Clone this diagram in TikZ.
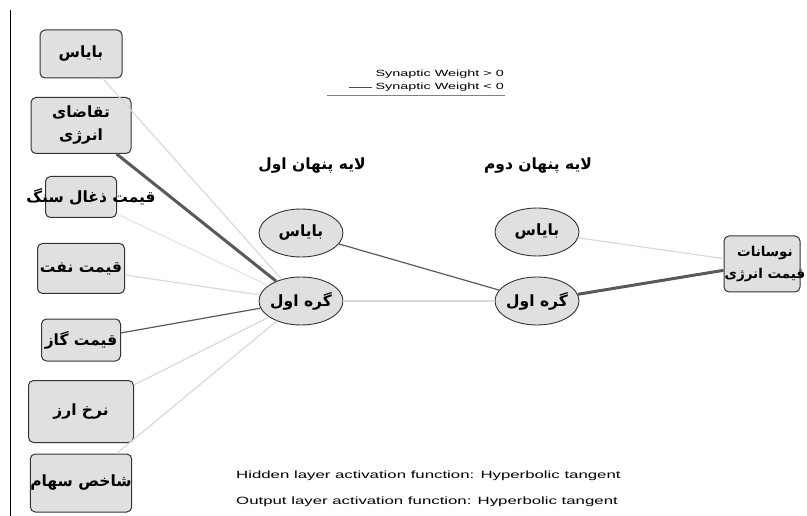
\documentclass[tikz,border=0pt]{standalone}
\usepackage{fontspec}
\setmainfont{Liberation Sans}
\newfontfamily\fafont[Script=Arabic]{DejaVu Sans}
\newfontfamily\legfont[FakeStretch=1.6]{Liberation Sans}
\TeXXeTstate=1
\usetikzlibrary{shapes.geometric}

\newcommand{\fawide}[1]{\makebox[0pt]{\beginR #1\endR}}

\tikzstyle{inbox} = [rectangle, rounded corners=5pt, inner sep=0pt, draw=black!80, line width=1pt, fill=black!12, font=\fafont\bfseries\fontsize{15.5}{23}\selectfont, align=center]
\tikzstyle{hidden} = [ellipse, minimum width=84pt, minimum height=48pt, inner sep=0pt, draw=black!80, line width=0.9pt, fill=black!12, font=\fafont\bfseries\fontsize{15.5}{23}\selectfont]
\tikzstyle{falabel} = [font=\fafont\bfseries\fontsize{15.5}{23}\selectfont, align=center, inner sep=0pt]
\tikzstyle{legend} = [font=\legfont\fontsize{9}{10}\selectfont, inner sep=0pt]
\tikzstyle{note} = [font=\legfont\fontsize{10.5}{12}\selectfont, inner sep=0pt, anchor=west]
\tikzstyle{wpos} = [line width=1.2pt, black!15]
\tikzstyle{wneg} = [line width=1.2pt, black!65]
\tikzstyle{wbig} = [line width=3pt, black!65]

\begin{document}
\begin{tikzpicture}[x=1pt, y=-1pt, node distance=71.5pt]
	\useasboundingbox (0,0) rectangle (807,516);
	\draw [black, line width=1pt] (10,10) -- (10,516);
	
	% input layer
	\node (bias0) [inbox, minimum width=82pt, minimum height=48pt] at (81,54) {\beginR بایاس\endR};
	\node (demand) [inbox, minimum width=100pt, minimum height=56pt, below of=bias0] {\beginR تقاضای\endR\\\beginR انرژی\endR};
	\node (coal) [inbox, minimum width=71pt, minimum height=41pt, below of=demand] {};
	\node (coaltext) [falabel] at ([xshift=10pt]coal) {\beginR قیمت ذغال سنگ\endR};
	\node (oil) [inbox, minimum width=87pt, minimum height=50pt, below of=coal] {\beginR قیمت نفت\endR};
	\node (gas) [inbox, minimum width=79pt, minimum height=42pt, below of=oil] {\beginR قیمت گاز\endR};
	\node (fx) [inbox, minimum width=105pt, minimum height=62pt, below of=gas] {\beginR نرخ ارز\endR};
	\node (stock) [inbox, minimum width=99pt, minimum height=58pt, below of=fx] {\beginR شاخص سهام\endR};
	
	% hidden layers
	\node (title1) [falabel] at (312,166) {\beginR لایه پنهان اول\endR};
	\node (title2) [falabel] at (538,166) {\beginR لایه پنهان دوم\endR};
	\node (hb1) [hidden] at (301,233) {\fawide{بایاس}};
	\node (hn1) [hidden, below of=hb1, node distance=68pt] {\fawide{گره اول}};
	\node (hb2) [hidden] at (537,232) {\fawide{بایاس}};
	\node (hn2) [hidden, below of=hb2, node distance=69pt] {\fawide{گره اول}};
	
	% output
	\node (out) [inbox, minimum width=76pt, minimum height=56pt] at (762,264) {};
	\node (outtext) [falabel, font=\fafont\bfseries\fontsize{13.5}{22}\selectfont] at ([xshift=3pt]out) {\beginR نوسانات\endR\\\beginR قیمت انرژی\endR};
	
	% weights
	\draw [wpos] (bias0) -- (hn1);
	\draw [wbig] (demand) -- (hn1);
	\draw [wpos, black!10] (coal) -- (hn1);
	\draw [wpos] (oil) -- (hn1);
	\draw [wneg] (gas) -- (hn1);
	\draw [wpos] (fx) -- (hn1);
	\draw [wpos] (stock) -- (hn1);
	\draw [wneg] (hb1) -- (hn2);
	\draw [wpos] (hn1) -- (hn2);
	\draw [wpos] (hb2) -- (out);
	\draw [wbig] (hn2) -- (out);
	
	% legend
	\node (legpos) [legend, anchor=east] at (504,74) {Synaptic Weight > 0};
	\node (legneg) [legend, anchor=east] at (504,87) {Synaptic Weight < 0};
	\coordinate (legline) at (349,87);
	\draw [black!70, line width=0.9pt, shorten >=3pt] (legline) -- (legneg.west);
	\coordinate (rulea) at (327,96);
	\coordinate (ruleb) at (505,96);
	\draw [black!50, line width=1pt] (rulea) -- (ruleb);
	
	\node (hidnote) [note] at (236,476) {Hidden layer activation function: Hyperbolic tangent};
	\node (outnote) [note] at (236,502) {Output layer activation function: Hyperbolic tangent};
\end{tikzpicture}
\end{document}
